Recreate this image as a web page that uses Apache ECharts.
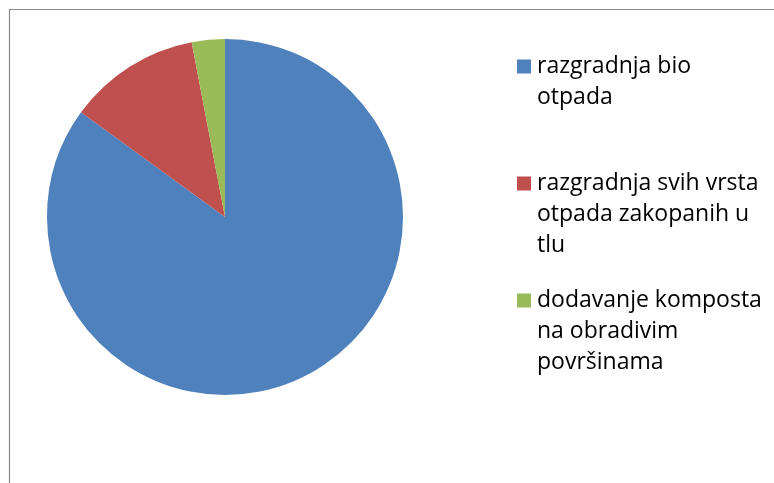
<!DOCTYPE html>
<html>
<head>
<meta charset="utf-8">
<script src="https://cdn.jsdelivr.net/npm/echarts@6/dist/echarts.min.js"></script>
<style>
  html, body { margin: 0; padding: 0; background: #fff; }
  #chart-pie { width: 774px; height: 483px; }
</style>
</head>
<body>
<div id="chart-pie"></div>
<script>
// categories and values
var categories = ['razgradnja bio otpada', 'razgradnja svih vrsta otpada zakopanih u tlu', 'dodavanje komposta na obradivim površinama'];
var legendLines = [
  'razgradnja bio\notpada\n ',
  'razgradnja svih vrsta\notpada zakopanih u\ntlu',
  'dodavanje komposta\nna obradivim\npovršinama'
];
var values = [85, 12, 3];
var colors = ['#4F81BD', '#C0504D', '#9BBB59'];

var chart = echarts.init(document.getElementById('chart-pie'));

var pieData = [];
for (var i = 0; i < categories.length; i++) {
  pieData.push({ name: categories[i], value: values[i], itemStyle: { color: colors[i] } });
}

// square on the first text line, tiny corner dots keep the box 14x93
var legendIcon = 'path://M0,0h0.01v0.01h-0.01z M0,8.5h14v14h-14z M13.99,92.99h0.01v0.01h-0.01z';

chart.setOption({
  backgroundColor: '#fff',
  animation: false,
  graphic: [{
    type: 'rect',
    shape: { x: 9.5, y: 9.5, width: 900, height: 600 },
    style: { fill: 'none', stroke: '#898989', lineWidth: 1.2 },
    silent: true
  }],
  legend: {
    orient: 'vertical',
    left: 517,
    top: 51,
    padding: 0,
    itemWidth: 14,
    itemHeight: 93,
    itemGap: 24,
    icon: legendIcon,
    selectedMode: false,
    formatter: function (name) {
      return legendLines[categories.indexOf(name)];
    },
    textStyle: {
      fontFamily: 'Open Sans',
      fontSize: 23,
      lineHeight: 31,
      color: '#000',
      padding: [0, 0, 0, 1]
    },
    data: categories
  },
  series: [{
    type: 'pie',
    center: [225, 217],
    radius: 178,
    startAngle: 90,
    clockwise: true,
    label: { show: false },
    labelLine: { show: false },
    emphasis: { disabled: true },
    itemStyle: { borderWidth: 0 },
    data: pieData
  }]
});
</script>
</body>
</html>
